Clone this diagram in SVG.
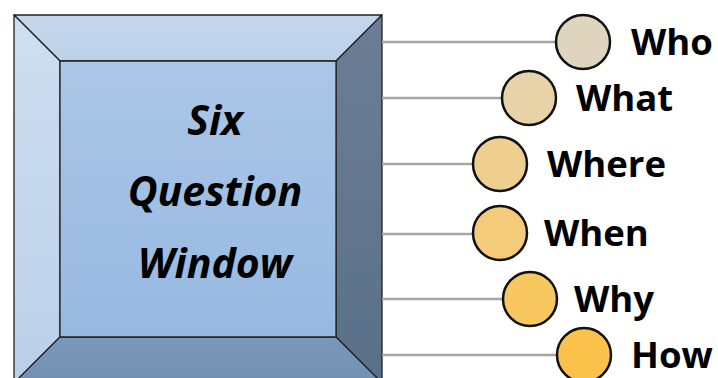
<svg xmlns="http://www.w3.org/2000/svg" width="718" height="378" viewBox="0 0 718 378">
<defs>
<linearGradient id="gLeft" x1="0" y1="0" x2="0" y2="1"><stop offset="0" stop-color="#CFDFF1"/><stop offset="1" stop-color="#BACFE8"/></linearGradient>
<linearGradient id="gTop" x1="0" y1="0" x2="0" y2="1"><stop offset="0" stop-color="#C3D6EC"/><stop offset="1" stop-color="#BDD2EA"/></linearGradient>
<linearGradient id="gRight" x1="0" y1="0" x2="0" y2="1"><stop offset="0" stop-color="#6B7E95"/><stop offset="1" stop-color="#5A6F89"/></linearGradient>
<linearGradient id="gBottom" x1="0" y1="0" x2="0" y2="1"><stop offset="0" stop-color="#7A98BA"/><stop offset="1" stop-color="#7290B2"/></linearGradient>
<linearGradient id="gInner" x1="0" y1="0" x2="0" y2="1"><stop offset="0" stop-color="#ABC6E6"/><stop offset="1" stop-color="#97B9E1"/></linearGradient>
</defs>
<style>
.edge{stroke:#222;stroke-width:1.3;stroke-linejoin:round}
.conn{stroke:#A6A6A6;stroke-width:2.5;fill:none}
.dot{stroke:#111;stroke-width:2.5}
.lbl{font-family:"Open Sans","Liberation Sans",sans-serif;font-weight:bold;font-size:36.5px;fill:#000}
.title{font-family:"Open Sans","Liberation Sans",sans-serif;font-weight:bold;font-style:italic;font-size:41px;fill:#000;text-anchor:middle}
</style>
<g id="window">
<polygon class="edge" fill="url(#gTop)" points="14,15 382,15 336,61 60,61"/>
<polygon class="edge" fill="url(#gLeft)" points="14,15 60,61 60,337 14,383"/>
<polygon class="edge" fill="url(#gRight)" points="382,15 382,383 336,337 336,61"/>
<polygon class="edge" fill="url(#gBottom)" points="60,337 336,337 382,383 14,383"/>
<rect class="edge" fill="url(#gInner)" x="60" y="61" width="276" height="276"/>
<text class="title" x="215" y="135">Six</text>
<text class="title" x="215" y="206">Question</text>
<text class="title" x="215" y="278">Window</text>
</g>
<g id="connectors">
<line class="conn" x1="382" y1="42" x2="557" y2="42"/>
<line class="conn" x1="382" y1="98" x2="502" y2="98"/>
<line class="conn" x1="382" y1="164" x2="473" y2="164"/>
<line class="conn" x1="382" y1="234" x2="473" y2="234"/>
<line class="conn" x1="382" y1="299" x2="503" y2="299"/>
<line class="conn" x1="382" y1="355" x2="557" y2="355"/>
</g>
<g id="who"><circle class="dot" cx="583" cy="42" r="27" fill="#DFD5BE"/><text class="lbl" x="631" y="55">Who</text></g>
<g id="what"><circle class="dot" cx="529" cy="98" r="27" fill="#E8D2A7"/><text class="lbl" x="576" y="111">What</text></g>
<g id="where"><circle class="dot" cx="500" cy="164" r="27" fill="#EECF8F"/><text class="lbl" x="547" y="177">Where</text></g>
<g id="when"><circle class="dot" cx="500" cy="233" r="27" fill="#F4CB78"/><text class="lbl" x="544" y="246">When</text></g>
<g id="why"><circle class="dot" cx="530" cy="299" r="27" fill="#F8C760"/><text class="lbl" x="574" y="312">Why</text></g>
<g id="how"><circle class="dot" cx="584" cy="355" r="27" fill="#FBC24B"/><text class="lbl" x="631" y="368">How</text></g>
</svg>
